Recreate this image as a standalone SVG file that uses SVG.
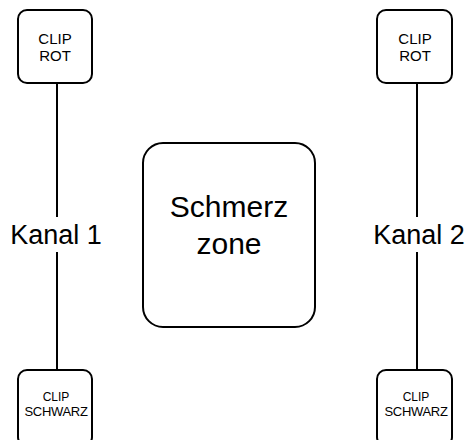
<svg xmlns="http://www.w3.org/2000/svg" width="468" height="440" viewBox="0 0 468 440">
<style>
.box{fill:#fff;stroke:#000;stroke-width:2}
.ln{stroke:#000;stroke-width:2;fill:none}
text{font-family:"Liberation Sans",Arial,sans-serif;fill:#000;text-anchor:middle}
.s{font-size:15px}
.xs{font-size:12px}
.sw{font-size:13px;letter-spacing:-0.3px}
.k{font-size:27px}
.b{font-size:30px}
</style>
<rect width="468" height="440" fill="#fff"/>
<g id="connectors">
<line class="ln" x1="57" y1="83" x2="57" y2="217"/>
<line class="ln" x1="57" y1="252" x2="57" y2="370"/>
<line class="ln" x1="417" y1="83" x2="417" y2="217"/>
<line class="ln" x1="417" y1="252" x2="417" y2="370"/>
</g>
<g id="clip-rot-1">
<rect class="box" x="18" y="10" width="74" height="73" rx="9"/>
<text class="s" x="55" y="44">CLIP</text>
<text class="s" x="55" y="61">ROT</text>
</g>
<g id="clip-schwarz-1">
<rect class="box" x="18" y="370" width="74" height="76" rx="9"/>
<text class="xs" x="56" y="401">CLIP</text>
<text class="sw" x="56" y="416">SCHWARZ</text>
</g>
<g id="clip-rot-2">
<rect class="box" x="377" y="10" width="75" height="73" rx="9"/>
<text class="s" x="415" y="44">CLIP</text>
<text class="s" x="415" y="61">ROT</text>
</g>
<g id="clip-schwarz-2">
<rect class="box" x="377" y="370" width="75" height="76" rx="9"/>
<text class="xs" x="416" y="401">CLIP</text>
<text class="sw" x="416" y="416">SCHWARZ</text>
</g>
<g id="kanal-1"><text class="k" x="56" y="244">Kanal 1</text></g>
<g id="kanal-2"><text class="k" x="419" y="244">Kanal 2</text></g>
<g id="schmerzzone">
<rect class="box" x="143" y="143" width="172" height="184" rx="20"/>
<text class="b" x="229" y="217">Schmerz</text>
<text class="b" x="229" y="254">zone</text>
</g>
</svg>
